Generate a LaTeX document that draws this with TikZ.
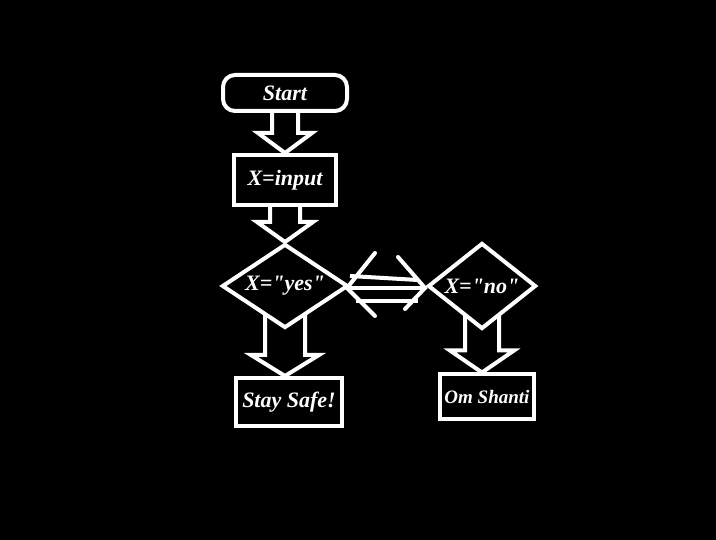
\documentclass[tikz,border=0pt]{standalone}
\usepackage{fontspec}
\setmainfont{Liberation Serif}
\usetikzlibrary{shapes.geometric,calc}

\tikzset{
  box/.style={draw=white, line width=4pt, fill=black, text=white, inner sep=0pt,
    font=\fontsize{22}{24}\selectfont\bfseries\itshape},
  decision/.style={box, diamond},
  fatline/.style={draw=white, line width=4pt, line join=miter},
}
% grosse fleche creuse entre deux noeuds
\newcommand{\fatarrow}[6]{%
  \draw[fatline] let \p1=(#1.south), \p2=(#2.north) in
    (\x1-#3pt,\y1+#6pt) -- (\x1-#3pt,\y2+#5pt) -- (\x1-#4pt,\y2+#5pt) -- (\x1,\y2)
    -- (\x1+#4pt,\y2+#5pt) -- (\x1+#3pt,\y2+#5pt) -- (\x1+#3pt,\y1+#6pt);
}

\begin{document}
\begin{tikzpicture}[x=1pt,y=-1pt]
    % fond noir
    \fill[black] (0,0) rectangle (716,540);
    \useasboundingbox (0,0) rectangle (716,540);

    % Placer les noeuds
    \node[box, rounded corners=12pt, minimum width=124pt, minimum height=36pt] (start) at (285,93) {Start};
    \node[box, minimum width=102pt, minimum height=50pt] (input) at (285,180) {X=input};
    \node[decision, shape aspect=1.5, minimum width=126pt, minimum height=84pt] (yes) at (285,286) {X=\textquotedbl yes\textquotedbl};
    \node[decision, shape aspect=1.25, minimum width=108pt, minimum height=86pt] (no) at (482,286) {X=\textquotedbl no\textquotedbl};
    \node[box, minimum width=106pt, minimum height=48pt] (safe) at (289,402) {Stay Safe!};
    \node[box, minimum width=94pt, minimum height=45pt, font=\fontsize{19}{21}\selectfont\bfseries\itshape] (shanti) at (487,397) {Om Shanti};

    % Les grosses fleches
    \fatarrow{start}{input}{13}{27}{20}{2}
    \fatarrow{input}{yes}{15}{28}{20}{2}
    \fatarrow{yes}{safe}{20}{34}{21}{16}
    \fatarrow{no}{shanti}{17}{32}{22}{16}

    % Double fleche entre les deux tests
    \draw[fatline] ($(yes.east)+(0,-10)$) -- ($(no.west)+(-8,-6)$);
    \draw[fatline] ($(yes.east)+(-2,2)$) -- ($(no.west)+(-2,2)$);
    \draw[fatline] ($(yes.east)+(6,15)$) -- ($(no.west)+(-8,15)$);
    \draw[fatline, line cap=round] ($(yes.east)+(25,-33)$) -- ($(yes.east)+(-3,2)$) -- ($(yes.east)+(25,30)$);
    \draw[fatline, line cap=round] ($(no.west)+(-28,-29)$) -- ($(no.west)+(-1,2)$) -- ($(no.west)+(-21,23)$);
\end{tikzpicture}
\end{document}
